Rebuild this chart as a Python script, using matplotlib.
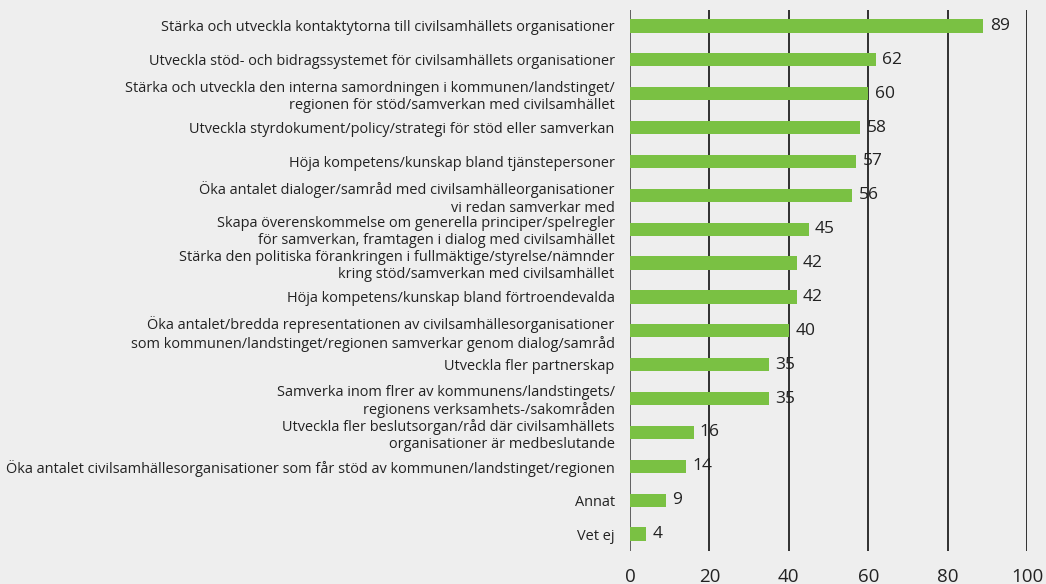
import matplotlib
matplotlib.use("Agg")
import matplotlib.pyplot as plt

categories = [
    "Stärka och utveckla kontaktytorna till civilsamhällets organisationer",
    "Utveckla stöd- och bidragssystemet för civilsamhällets organisationer",
    "Stärka och utveckla den interna samordningen i kommunen/landstinget/\nregionen för stöd/samverkan med civilsamhället",
    "Utveckla styrdokument/policy/strategi för stöd eller samverkan",
    "Höja kompetens/kunskap bland tjänstepersoner",
    "Öka antalet dialoger/samråd med civilsamhälleorganisationer\nvi redan samverkar med",
    "Skapa överenskommelse om generella principer/spelregler\nför samverkan, framtagen i dialog med civilsamhället",
    "Stärka den politiska förankringen i fullmäktige/styrelse/nämnder\nkring stöd/samverkan med civilsamhället",
    "Höja kompetens/kunskap bland förtroendevalda",
    "Öka antalet/bredda representationen av civilsamhällesorganisationer\nsom kommunen/landstinget/regionen samverkar genom dialog/samråd",
    "Utveckla fler partnerskap",
    "Samverka inom flrer av kommunens/landstingets/\nregionens verksamhets-/sakområden",
    "Utveckla fler beslutsorgan/råd där civilsamhällets\norganisationer är medbeslutande",
    "Öka antalet civilsamhällesorganisationer som får stöd av kommunen/landstinget/regionen",
    "Annat",
    "Vet ej",
]
values = [89, 62, 60, 58, 57, 56, 45, 42, 42, 40, 35, 35, 16, 14, 9, 4]
xticks = [0, 20, 40, 60, 80, 100]

BG = "#eeeeee"
BAR = "#7ac143"
FONT = "Open Sans"

fig = plt.figure(figsize=(10.46, 5.84), dpi=100, facecolor=BG)
ax = fig.add_axes([630/1046, 1-551/584, (1027-630)/1046, (551-10)/584])
ax.set_facecolor(BG)

y = list(range(len(values)))
ax.barh(y, values, height=0.39, color=BAR, zorder=3)
for yi, v in zip(y, values):
    ax.text(v + 1.6, yi, str(v), va="center", ha="left", fontsize=12.5,
            color="#222222", family=FONT, zorder=4)

for x in xticks:
    ax.axvline(x, color="#555555" if x == 0 else "#222222", lw=1.3, zorder=1)

ax.set_xlim(0, 100)
ax.set_ylim(15.5, -0.47)
ax.set_yticks(y)
ax.set_yticklabels(categories, fontsize=10.45, family=FONT, color="#222222",
                   linespacing=1.2)
ax.set_xticks(xticks)
ax.set_xticklabels([str(t) for t in xticks], fontsize=13.5, family=FONT, color="#222222")
ax.tick_params(axis="y", length=0, pad=11)
ax.tick_params(axis="x", length=0, pad=12)
for s in ax.spines.values():
    s.set_visible(False)

fig.savefig("out.png", dpi=100, facecolor=BG)
